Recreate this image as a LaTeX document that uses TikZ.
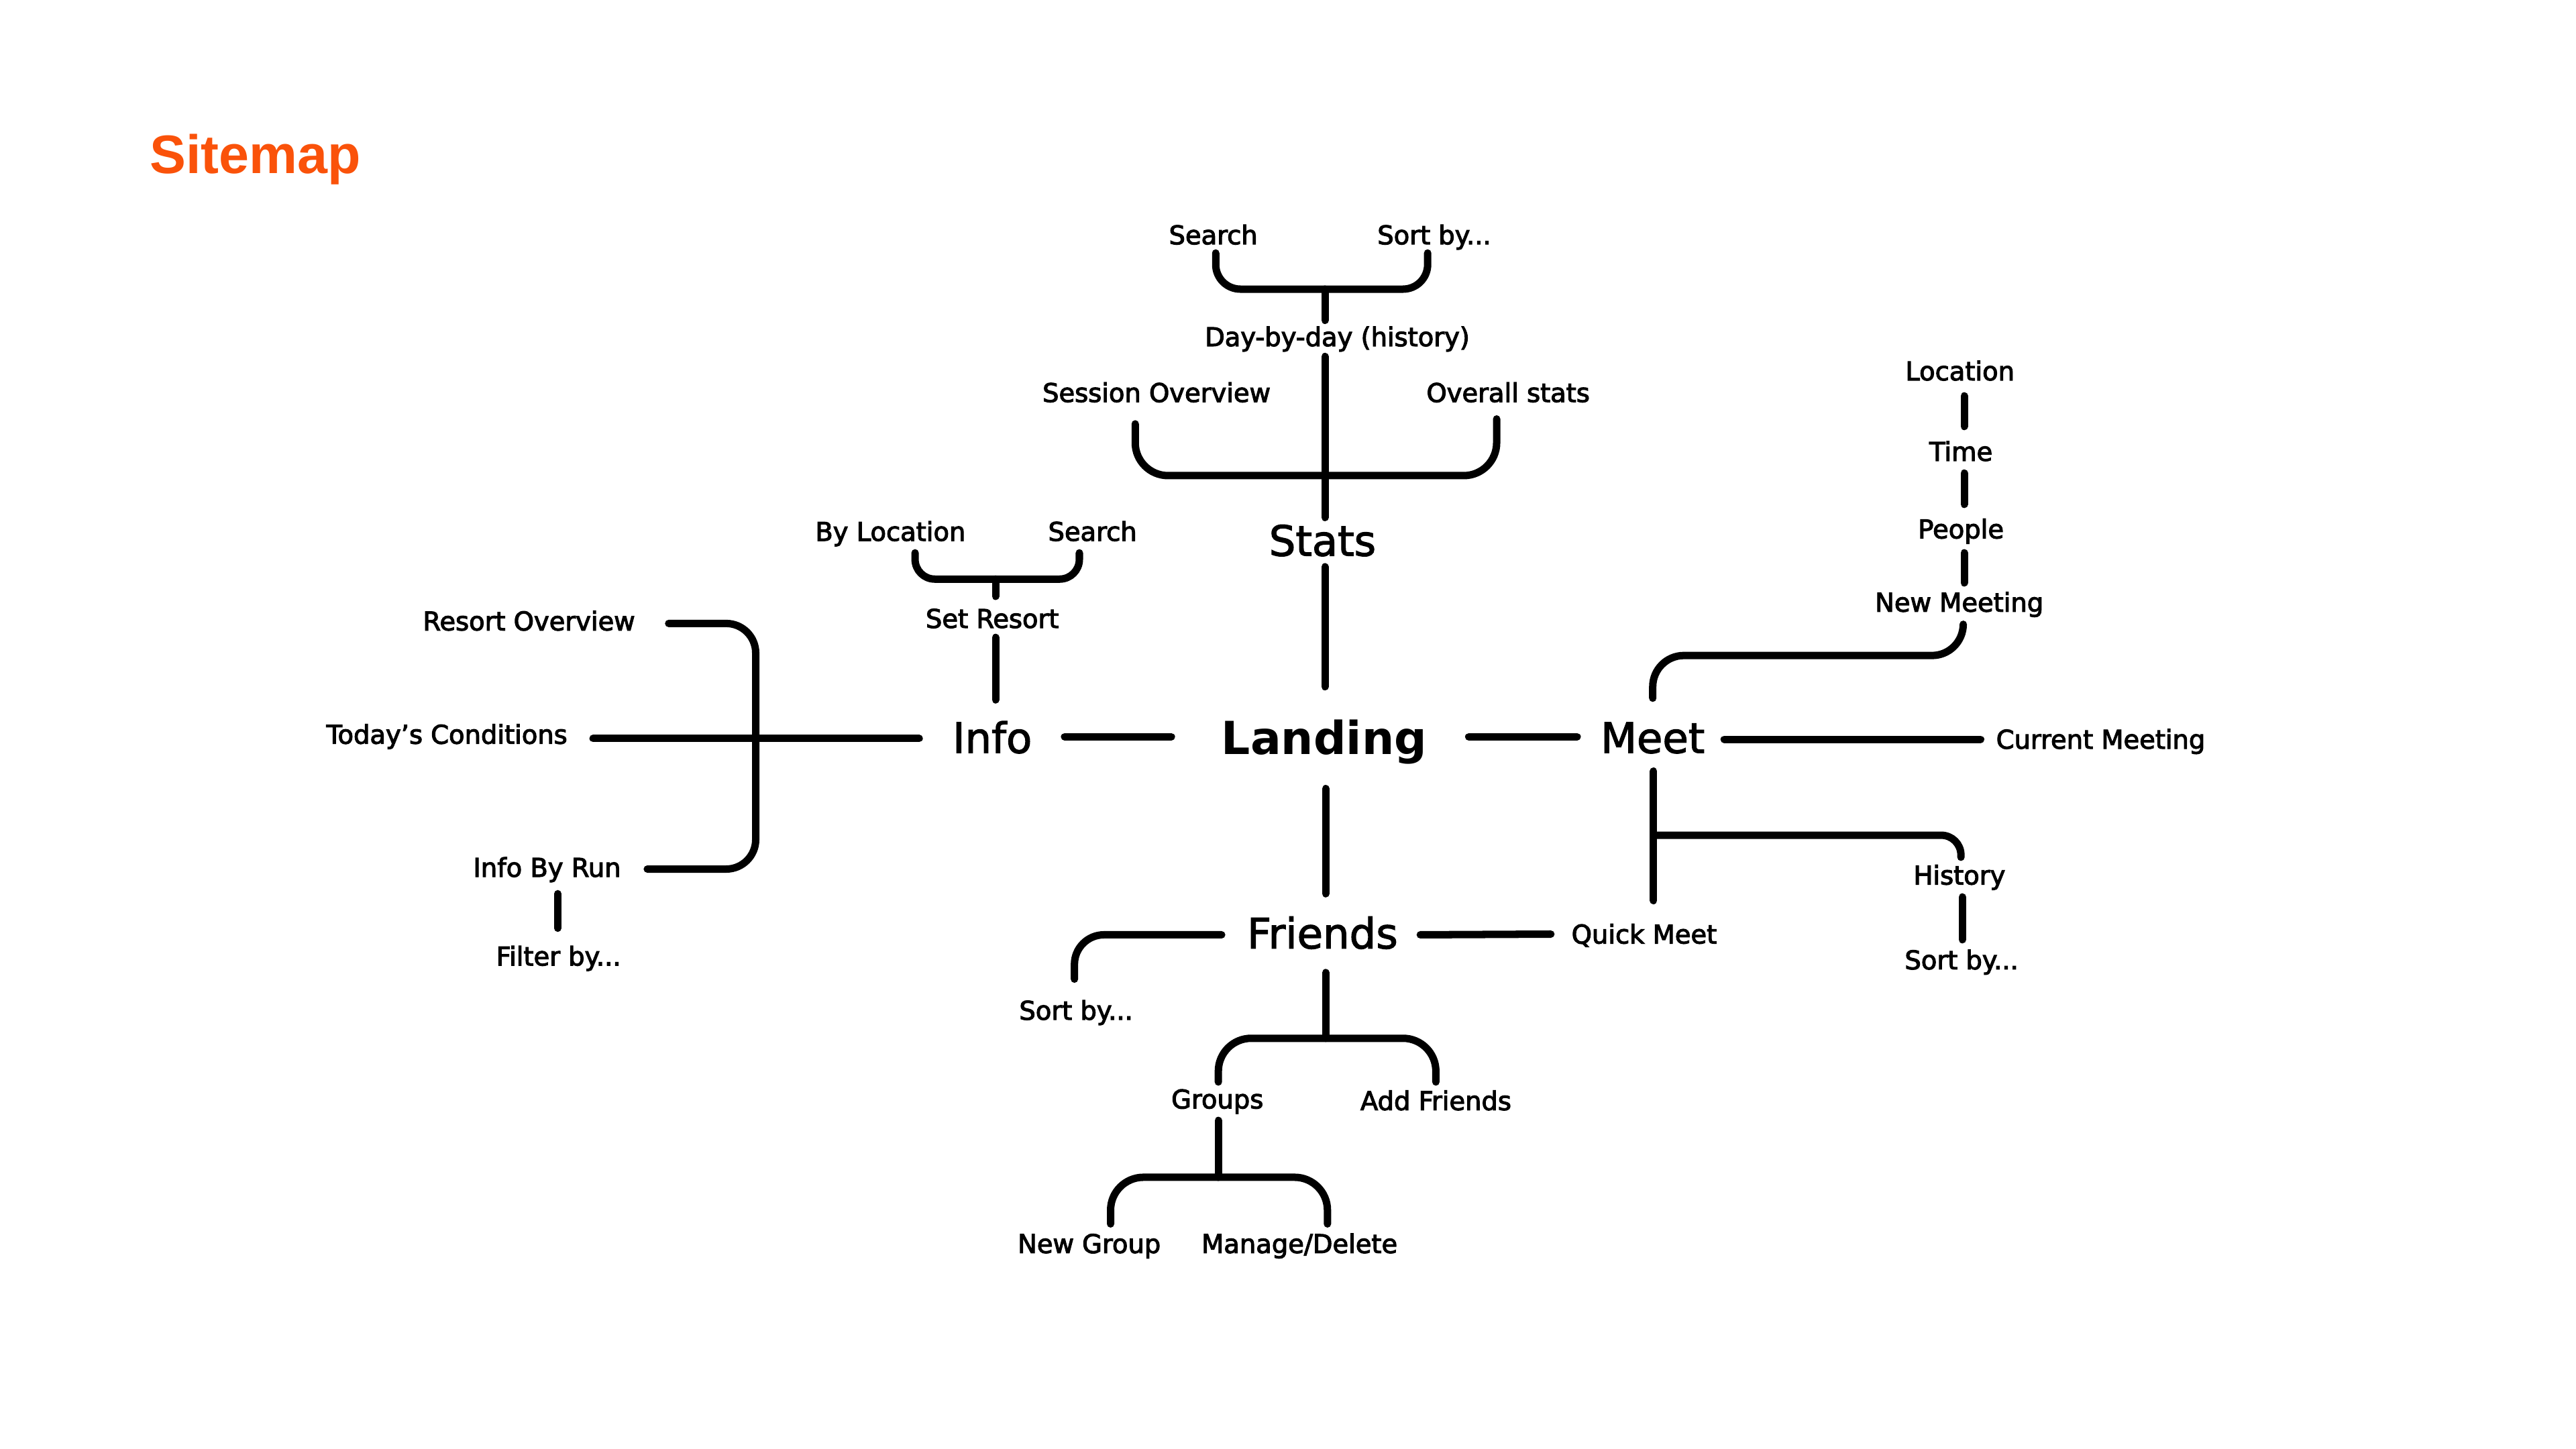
\documentclass[tikz,border=0pt]{standalone}
\usepackage{fontspec}
\setmainfont{DejaVu Sans}
\newfontfamily\labelfont{DejaVu Sans}[FakeBold=3]
\newfontfamily\bigfont{DejaVu Sans}[FakeBold=2]
\newfontfamily\titlefont{Liberation Sans}
\definecolor{sitemaporange}{RGB}{250,82,10}
\begin{document}
\begin{tikzpicture}[x=1pt,y=-1pt,
  lbl/.style={font=\labelfont\fontsize{15.7}{19}\selectfont, inner sep=0pt, text height=11.4pt, text depth=0pt},
  big/.style={font=\bigfont\fontsize{25.5}{30}\selectfont, inner sep=0pt, text height=18.6pt, text depth=0pt},
  hub/.style={font=\bfseries\fontsize{27.7}{32}\selectfont, inner sep=0pt, text height=20.2pt, text depth=0pt},
  conn/.style={line width=4.5pt, line cap=round, line join=round, black},
]
\useasboundingbox[fill=white] (0,0) rectangle (1568,882);

% title
\node[anchor=base west, inner sep=0pt, text=sitemaporange, font=\titlefont\bfseries\fontsize{33}{38}\selectfont] (title) at (91,105.5) {Sitemap};

% hubs
\node[hub] (landing) at (806,449) {Landing};
\node[big] (stats) at (805,329) {Stats};
\node[big] (info) at (604,449) {Info};
\node[big] (meet) at (1006,449) {Meet};
\node[big] (friends) at (805,568) {Friends};

% stats branch
\node[lbl] (search1) at (738.5,143) {Search};
\node[lbl] (sort1) at (873,143) {Sort by...};
\node[lbl] (dbd) at (814,205) {Day-by-day (history)};
\node[lbl] (session) at (704,239) {Session Overview};
\node[lbl] (overall) at (918,239) {Overall stats};

% info branch
\node[lbl] (byloc) at (542,323.5) {By Location};
\node[lbl] (search2) at (665,323.5) {Search};
\node[lbl] (setresort) at (604,376.5) {Set Resort};
\node[lbl] (resort) at (322,378) {Resort Overview};
\node[lbl] (today) at (272,447) {Today’s Conditions};
\node[lbl] (infobyrun) at (333,528) {Info By Run};
\node[lbl] (filter) at (340,582) {Filter by...};

% friends branch
\node[lbl] (sortf) at (655,615) {Sort by...};
\node[lbl] (quickmeet) at (1000.8,568.6) {Quick Meet};
\node[lbl] (groups) at (741,669) {Groups};
\node[lbl] (addfriends) at (874,670) {Add Friends};
\node[lbl] (newgroup) at (663,757) {New Group};
\node[lbl] (manage) at (791,757) {Manage/Delete};

% meet branch
\node[lbl] (current) at (1278.7,450) {Current Meeting};
\node[lbl] (newmeeting) at (1192.6,366.6) {New Meeting};
\node[lbl] (people) at (1193.6,322) {People};
\node[lbl] (time) at (1193.6,274.8) {Time};
\node[lbl] (location) at (1193,225.8) {Location};
\node[lbl] (history) at (1192.7,532.7) {History};
\node[lbl] (sorth) at (1194,584.3) {Sort by...};

% junctions
\coordinate (j1) at (806.5,176);
\coordinate (j2) at (806.5,289.5);
\coordinate (j3) at (606,352.5);
\coordinate (j4) at (460,449.5);
\coordinate (j5) at (807,632);
\coordinate (j6) at (741.6,716.6);
\coordinate (j8) at (1006.5,508.4);

% stats connectors
\draw[conn, rounded corners=15pt] ([shift={(1.5,11)}]search1.center) |- (j1) -| ([shift={(-4,11)}]sort1.center);
\draw[conn] (j1) -- ([shift={(-7.5,-10)}]dbd.center);
\draw[conn] ([shift={(-7.5,12)}]dbd.center) -- ([shift={(1.5,-14)}]stats.center);
\draw[conn, rounded corners=20pt] ([shift={(-13,19)}]session.center) |- (j2) -| ([shift={(-7,16)}]overall.center);
\draw[conn] ([shift={(1.5,16)}]stats.center) -- ([shift={(0.5,-31)}]landing.center);

% landing connectors
\draw[conn] ([shift={(1,31)}]landing.center) -- ([shift={(2,-24)}]friends.center);
\draw[conn] ([shift={(44,-0.5)}]info.center) -- ([shift={(-93,-0.5)}]landing.center);
\draw[conn] ([shift={(88,-0.5)}]landing.center) -- ([shift={(-46,-0.5)}]meet.center);

% info connectors
\draw[conn, rounded corners=12pt] ([shift={(15,13)}]byloc.center) |- (j3) -| ([shift={(-8,13)}]search2.center);
\draw[conn] (j3) -- ([shift={(2,-13.5)}]setresort.center);
\draw[conn] ([shift={(2,11.5)}]setresort.center) -- ([shift={(2,-23)}]info.center);
\draw[conn] ([shift={(89,2.5)}]today.center) -- ([shift={(-44.5,0.5)}]info.center);
\draw[conn, rounded corners=18pt] ([shift={(85,1.5)}]resort.center) -| (j4) |- ([shift={(61,1)}]infobyrun.center);
\draw[conn] ([shift={(6.5,16)}]infobyrun.center) -- ([shift={(-0.5,-17)}]filter.center);

% friends connectors
\draw[conn, rounded corners=18pt] ([shift={(-61.4,1)}]friends.center) -| ([shift={(-1,-19)}]sortf.center);
\draw[conn] ([shift={(59.5,1)}]friends.center) -- ([shift={(-56.8,0)}]quickmeet.center);
\draw[conn] ([shift={(2,24)}]friends.center) -- (j5);
\draw[conn, rounded corners=20pt] ([shift={(0.6,-10.4)}]groups.center) |- (j5) -| ([shift={(0,-11.4)}]addfriends.center);
\draw[conn] ([shift={(0.6,13)}]groups.center) -- (j6);
\draw[conn, rounded corners=20pt] ([shift={(13,-12)}]newgroup.center) |- (j6) -| ([shift={(17,-12)}]manage.center);

% meet connectors
\draw[conn] ([shift={(43.5,1)}]meet.center) -- ([shift={(-73.1,0)}]current.center);
\draw[conn, rounded corners=19pt] ([shift={(0,-24)}]meet.center) -- ++(0,-26) -| ([shift={(2.4,13.4)}]newmeeting.center);
\draw[conn] ([shift={(2,14.5)}]people.center) -- ([shift={(3,-11.8)}]newmeeting.center);
\draw[conn] ([shift={(2,13.2)}]time.center) -- ([shift={(2,-15)}]people.center);
\draw[conn] ([shift={(2.6,15.2)}]location.center) -- ([shift={(2,-15.2)}]time.center);
\draw[conn] ([shift={(0.5,20.4)}]meet.center) -- ([shift={(5.7,-20.4)}]quickmeet.center);
\draw[conn, rounded corners=12pt] (j8) -| ([shift={(0.9,-10.9)}]history.center);
\draw[conn] ([shift={(1.8,13.3)}]history.center) -- ([shift={(0.5,-12.3)}]sorth.center);
\end{tikzpicture}
\end{document}
